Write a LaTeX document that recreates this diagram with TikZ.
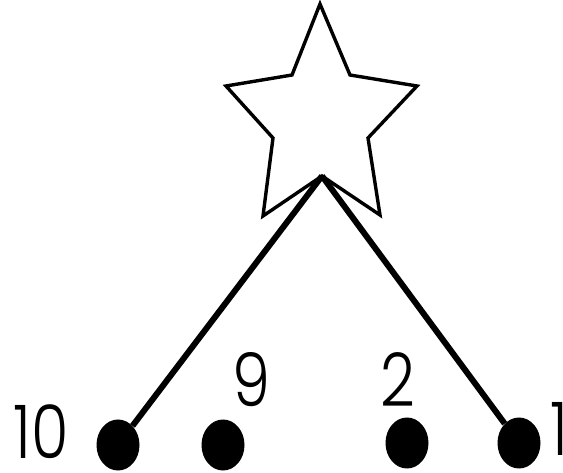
\documentclass[tikz,border=0pt]{standalone}
\usepackage{fontspec}
\setmainfont{Poppins}
\newfontfamily\numfont{Poppins Light}
\usepackage{tikz}
\usetikzlibrary{shapes.geometric}
\newcommand{\narrow}[1]{\scalebox{0.82}[1]{#1}}

\begin{document}
\begin{tikzpicture}[
  x=1pt,y=-1pt,
  dot/.style={ellipse,fill=black,draw=none,minimum width=43pt,minimum height=51pt,inner sep=0pt},
  num/.style={inner sep=0pt,font=\numfont\fontsize{74}{74}\selectfont},
  starline/.style={line width=3.4pt,line join=miter},
  link/.style={line width=6pt}
]
  \useasboundingbox (0,0) rectangle (563,473);
  % star
  \coordinate (tip)   at (320,4);
  \coordinate (notch) at (322,176);
  \draw[starline] (tip) -- (350,75) -- (417,86) -- (368,138) -- (380,215)
    -- (notch) -- (263,216) -- (273,138) -- (226,86) -- (292,75) -- cycle;
  % dots
  \node[dot] (d10) at (118,445) {};
  \node[dot] (d9)  at (223,445) {};
  \node[dot] (d2)  at (407,443) {};
  \node[dot] (d1)  at (519,443) {};
  % labels
  \node[num] (l10) at (41,432)  {\narrow{10}};
  \node[num] (l9)  at (251,380) {\narrow{9}};
  \node[num] (l2)  at (398,380) {\narrow{2}};
  \node[num,anchor=west] (l1) at (550,429) {\narrow{1}};
  % links
  \draw[link] (notch) -- (d10);
  \draw[link] (notch) -- (d1);
\end{tikzpicture}
\end{document}
